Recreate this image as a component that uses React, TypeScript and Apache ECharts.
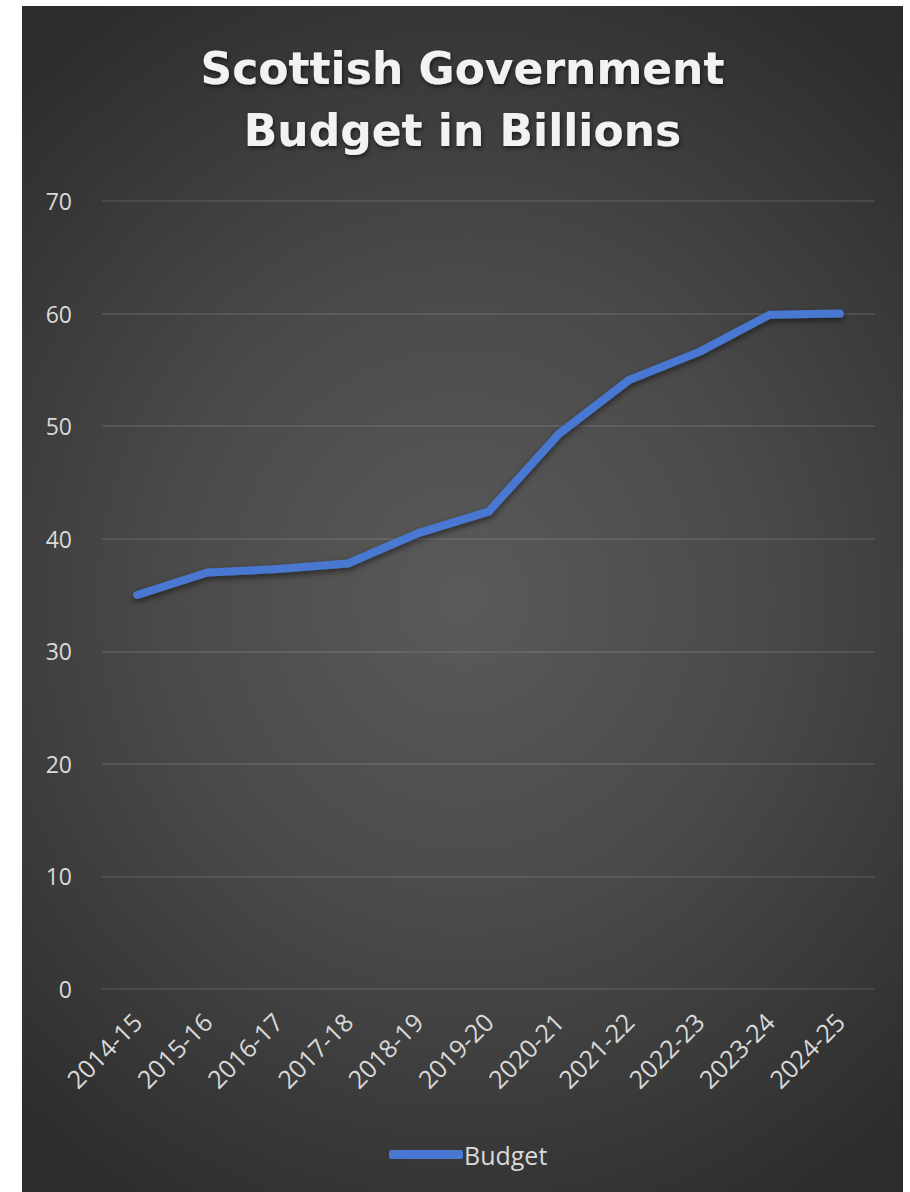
import React, { useEffect, useRef } from "react";
import * as echarts from "echarts";

const categories = [
  "2014-15", "2015-16", "2016-17", "2017-18", "2018-19", "2019-20",
  "2020-21", "2021-22", "2022-23", "2023-24", "2024-25",
];
const budget = [35, 37, 37.3, 37.8, 40.5, 42.4, 49.3, 54.1, 56.6, 59.9, 60];
const titleLines = ["Scottish Government", "Budget in Billions"];
const seriesName = "Budget";

export default function App() {
  const ref = useRef<HTMLDivElement>(null);
  useEffect(() => {
    if (!ref.current) return;
    const chart = echarts.init(ref.current, undefined, { renderer: "svg" });
    chart.setOption({
      animation: false,
      backgroundColor: "transparent",
      title: {
        text: titleLines.join("\n"),
        left: "center",
        top: 26,
        textStyle: {
          color: "#f2f2f2",
          fontFamily: "DejaVu Sans",
          fontWeight: "bold",
          fontSize: 44,
          lineHeight: 62,
          textShadowColor: "rgba(0,0,0,0.6)",
          textShadowBlur: 4,
          textShadowOffsetX: 1,
          textShadowOffsetY: 2,
        },
      },
      legend: {
        data: [{ name: seriesName, icon: "roundRect" }],
        bottom: 20,
        left: 362,
        itemWidth: 74,
        itemHeight: 9,
        itemGap: 0,
        textStyle: { color: "#d9d9d9", fontSize: 25, fontFamily: "Open Sans", padding: [0, 0, 0, -4] },
      },
      grid: { left: 80, right: 28, top: 195, bottom: 203, containLabel: false },
      xAxis: {
        type: "category",
        data: categories,
        boundaryGap: true,
        axisLine: { show: false },
        axisTick: { show: false },
        axisLabel: {
          rotate: 45,
          color: "#d9d9d9",
          fontSize: 25,
          fontFamily: "Open Sans",
          margin: 28,
        },
      },
      yAxis: {
        type: "value",
        min: 0,
        max: 70,
        interval: 10,
        axisLine: { show: false },
        axisTick: { show: false },
        axisLabel: { color: "#d9d9d9", fontSize: 23, fontFamily: "Open Sans", margin: 30 },
        splitLine: { lineStyle: { color: "rgba(255,255,255,0.13)", width: 1.5 } },
      },
      series: [
        {
          name: seriesName,
          type: "line",
          data: budget,
          symbol: "none",
          lineStyle: {
            color: "#4878d2",
            width: 8,
            cap: "round",
            join: "round",
            shadowColor: "rgba(0,0,0,0.5)",
            shadowBlur: 6,
            shadowOffsetY: 3,
          },
          itemStyle: { color: "#4878d2" },
        },
      ],
    });
    return () => chart.dispose();
  }, []);
  return (
    <div style={{ position: "absolute", left: 0, top: 0, width: 910, height: 1192, background: "#fff" }}>
      <div
        ref={ref}
        style={{
          position: "absolute",
          left: 22,
          top: 6,
          width: 881,
          height: 1186,
          background: "radial-gradient(ellipse 75% 60% at 50% 50%, #5a5a5a 0%, #4a4a4a 45%, #2c2c2c 100%)",
        }}
      />
    </div>
  );
}
